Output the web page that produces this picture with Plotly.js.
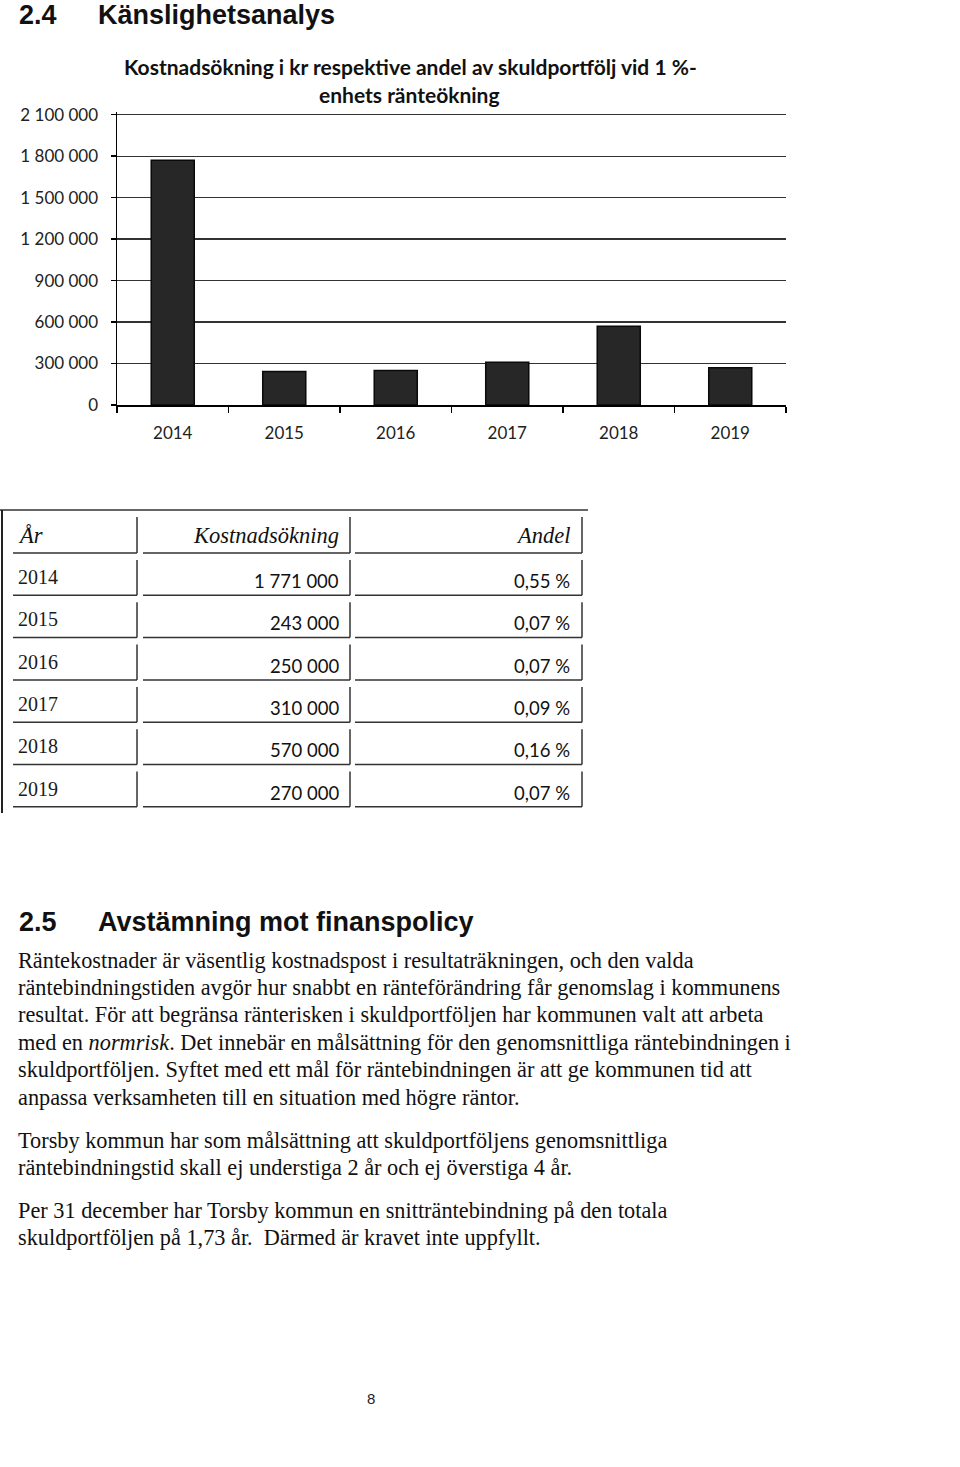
<!DOCTYPE html>
<html>
<head>
<meta charset="utf-8">
<script src="https://cdn.plot.ly/plotly-3.0.1.min.js"></script>
<style>
  html, body { margin: 0; padding: 0; background: #fff; }
  #page { width: 960px; height: 1467px; }
</style>
</head>
<body>
<div id="page"></div>
<script>
// ---- Data ----
const years = ['2014', '2015', '2016', '2017', '2018', '2019'];
const costIncrease = [1771000, 243000, 250000, 310000, 570000, 270000];
const shareOfDebt = [0.55, 0.07, 0.07, 0.09, 0.16, 0.07];
const yAxisMax = 2100000;
const yAxisStep = 300000;

const chartTitleLines = ['Kostnadsökning i kr respektive andel av skuldportfölj vid 1 %-', 'enhets ränteökning'];
const tableHeaders = ['År', 'Kostnadsökning', 'Andel'];

const heading1 = ['2.4', 'Känslighetsanalys'];
const heading2 = ['2.5', 'Avstämning mot finanspolicy'];
const paragraphs = [
  [
    'Räntekostnader är väsentlig kostnadspost i resultaträkningen, och den valda',
    'räntebindningstiden avgör hur snabbt en ränteförändring får genomslag i kommunens',
    'resultat. För att begränsa ränterisken i skuldportföljen har kommunen valt att arbeta',
    'med en <i>normrisk</i>. Det innebär en målsättning för den genomsnittliga räntebindningen i',
    'skuldportföljen. Syftet med ett mål för räntebindningen är att ge kommunen tid att',
    'anpassa verksamheten till en situation med högre räntor.'
  ],
  [
    'Torsby kommun har som målsättning att skuldportföljens genomsnittliga',
    'räntebindningstid skall ej understiga 2 år och ej överstiga 4 år.'
  ],
  [
    'Per 31 december har Torsby kommun en snitträntebindning på den totala',
    'skuldportföljen på 1,73 år.  Därmed är kravet inte uppfyllt.'
  ]
];
const pageNumber = '8';

// ---- Layout helpers (page pixels -> paper) ----
const W = 960, H = 1467;
const px = x => x / W;
const py = y => 1 - y / H;

const sansChart = 'Lato, "Open Sans", sans-serif';
const serif = '"Liberation Serif", "DejaVu Serif", serif';
const arial = '"Liberation Sans", Arial, sans-serif';

function fmtThousands(v) {
  return String(v).replace(/\B(?=(\d{3})+(?!\d))/g, ' ');
}
function fmtPct(v) {
  return v.toFixed(2).replace('.', ',') + ' %';
}

const annotations = [];
const shapes = [];
function txt(text, x, y, opts) {
  annotations.push(Object.assign({
    text: text, x: px(x), y: py(y), xref: 'paper', yref: 'paper',
    showarrow: false, xanchor: 'left', yanchor: 'middle'
  }, opts));
}

// Headings
const headFont = {family: arial, size: 27, color: '#111', weight: 'bold'};
txt(heading1[0], 17, 15, {font: headFont});
txt(heading1[1], 96, 15, {font: headFont});
txt(heading2[0], 17, 922, {font: headFont});
txt(heading2[1], 96, 922, {font: headFont});

// Chart title
const titleFont = {family: sansChart, size: 21, color: '#111', weight: 'bold'};
txt(chartTitleLines[0], 410, 66, {xanchor: 'center', font: titleFont});
txt(chartTitleLines[1], 409, 95, {xanchor: 'center', font: titleFont});

// Table
const colL = [5, 143, 355], colR = [137, 350, 582];
const headerBottom = 553, rowH = 42.3;
shapes.push({type: 'line', xref: 'paper', yref: 'paper', x0: px(0), x1: px(588), y0: py(510), y1: py(510), line: {color: '#333', width: 1.5}});
shapes.push({type: 'line', xref: 'paper', yref: 'paper', x0: px(2), x1: px(2), y0: py(510), y1: py(813), line: {color: '#222', width: 2}});
const rowBottoms = [headerBottom].concat(years.map((_, i) => headerBottom + rowH * (i + 1)));
rowBottoms.forEach((b, r) => {
  const top = r === 0 ? 517 : rowBottoms[r - 1] + 7;
  for (let c = 0; c < 3; c++) {
    shapes.push({type: 'line', xref: 'paper', yref: 'paper', x0: px(colL[c] + (c === 0 ? 8 : 0)), x1: px(colR[c]), y0: py(b), y1: py(b), line: {color: '#333', width: 1.5}});
    shapes.push({type: 'line', xref: 'paper', yref: 'paper', x0: px(colR[c]), x1: px(colR[c]), y0: py(top), y1: py(b), line: {color: '#333', width: 1.5}});
  }
});
const hdrFont = {family: serif, size: 22.5, color: '#111', style: 'italic'};
txt(tableHeaders[0], 16, 535, {font: hdrFont});
txt(tableHeaders[1], 341, 535, {xanchor: 'right', font: hdrFont});
txt(tableHeaders[2], 572, 535, {xanchor: 'right', font: hdrFont});
years.forEach((yr, i) => {
  const yc = headerBottom + rowH * i + 27;
  txt(yr, 16, yc - 3, {font: {family: serif, size: 20, color: '#1a1a1a'}});
  txt(fmtThousands(costIncrease[i]), 341, yc + 1, {xanchor: 'right', font: {family: sansChart, size: 18.5, color: '#111'}});
  txt(fmtPct(shareOfDebt[i]), 572, yc + 1, {xanchor: 'right', font: {family: sansChart, size: 18.5, color: '#111'}});
});

// Body text
const bodyFont = {family: serif, size: 22.3, color: '#111'};
const paraStarts = [960, 1140, 1210];
const lineStep = 27.4;
paragraphs.forEach((lines, p) => {
  lines.forEach((line, j) => {
    txt(line, 16, paraStarts[p] + lineStep * j, {font: bodyFont});
  });
});

// Page number
txt(pageNumber, 371, 1398, {xanchor: 'center', font: {family: arial, size: 15, color: '#222'}});

// ---- Chart ----
const trace = {
  type: 'bar',
  x: years,
  y: costIncrease,
  marker: {color: '#272727', line: {color: '#0a0a0a', width: 1.5}},
  hoverinfo: 'skip'
};

// y range padded slightly above the top tick so Plotly keeps the top gridline
const yPad = 1.008;
const plotBottomPx = 405, plotTopAtMaxPx = 114.7;
const plotTopPx = plotBottomPx - (plotBottomPx - plotTopAtMaxPx) * yPad;

const layout = {
  width: W, height: H,
  margin: {l: 0, r: 0, t: 0, b: 0, pad: 0},
  paper_bgcolor: '#fff', plot_bgcolor: '#fff',
  separators: ', ',
  showlegend: false,
  bargap: 0.614,
  xaxis: {
    domain: [px(117), px(786)],
    type: 'category',
    range: [-0.5, 5.5],
    tickson: 'boundaries',
    ticks: 'outside', ticklen: 6, tickwidth: 1.5, tickcolor: '#000',
    showline: true, linecolor: '#000', linewidth: 1.5,
    showgrid: false, zeroline: false,
    tickfont: {family: sansChart, size: 17, color: '#222'},
    ticklabelstandoff: 12,
    fixedrange: true
  },
  yaxis: {
    domain: [py(plotBottomPx), py(plotTopPx)],
    range: [0, yAxisMax * yPad],
    tick0: 0, dtick: yAxisStep,
    tickformat: ',d',
    ticks: 'outside', ticklen: 5, tickwidth: 1.5, tickcolor: '#000',
    showline: true, linecolor: '#000', linewidth: 1.5,
    showgrid: true, gridcolor: '#333', gridwidth: 1.3,
    zeroline: false,
    tickfont: {family: sansChart, size: 17, color: '#222'},
    ticklabelstandoff: 9,
    fixedrange: true
  },
  annotations: annotations,
  shapes: shapes
};

Plotly.newPlot('page', [trace], layout, {staticPlot: true, displayModeBar: false});
</script>
</body>
</html>
